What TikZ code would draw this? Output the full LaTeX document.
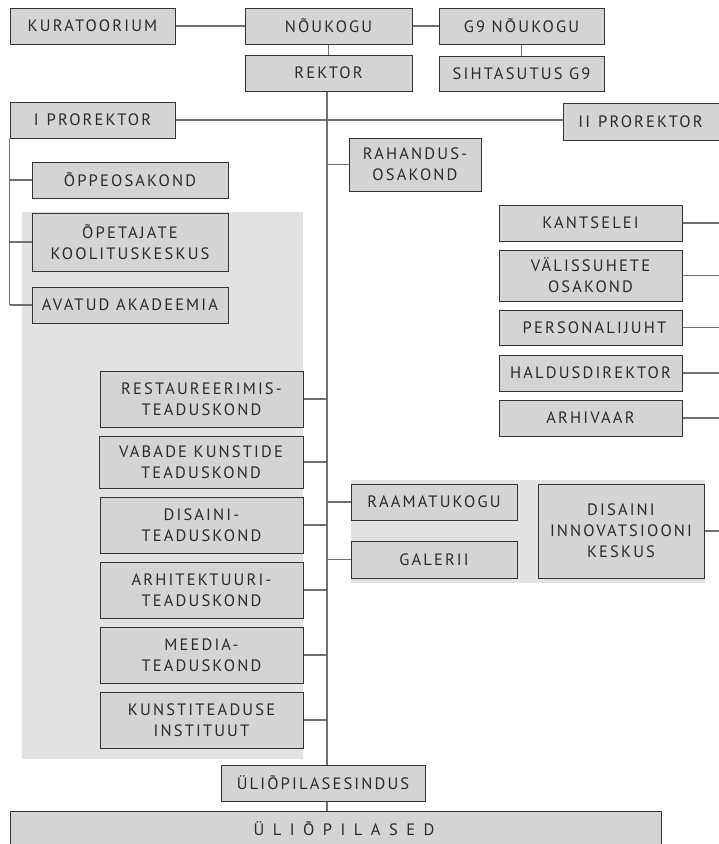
\documentclass[tikz,border=0pt]{standalone}
\usepackage{fontspec}
\newfontfamily\orgfont{PT Sans}[LetterSpace=13]
\definecolor{boxfill}{HTML}{D4D4D6}
\definecolor{bgfill}{HTML}{E1E2E4}
\definecolor{boxline}{HTML}{333333}
\definecolor{connline}{HTML}{707070}
\definecolor{txt}{HTML}{2A2A2A}
\tikzset{
  box/.style={draw=boxline, fill=boxfill, line width=1pt, inner sep=0pt, align=center,
    text=txt, font=\orgfont\fontsize{16.5}{21}\selectfont},
  conn/.style={draw=connline, line width=1.4pt},
  bgarea/.style={fill=bgfill, draw=none}
}
\newcommand{\bx}[6]{\node[box, minimum width={(#4-#2)*1pt}, minimum height={(#5-#3)*1pt}] (#1) at ({(#2+#4)/2},{(#3+#5)/2}) {#6};}
\begin{document}
\begin{tikzpicture}[x=1pt,y=-1pt]
\useasboundingbox (0,0) rectangle (719,844);
% background areas
\fill[bgarea] (22,212) rectangle (303,759);
\fill[bgarea] (351,480) rectangle (705,583);
% reference coordinates
\coordinate (spine) at (327,0);
\coordinate (edge) at (722,0);
% boxes
\bx{kur}{10}{8}{175}{44}{KURATOORIUM}
\bx{nou}{245}{8}{412}{44}{NÕUKOGU}
\bx{gnou}{439}{8}{604}{44}{G9 NÕUKOGU}
\bx{rek}{245}{55}{412}{91}{REKTOR}
\bx{sih}{439}{56}{604}{91}{SIHTASUTUS G9}
\bx{ipro}{10}{102}{175}{138}{I\hspace{8pt}PROREKTOR}
\bx{iipro}{563}{103}{724}{140}{II\hspace{8pt}PROREKTOR\hspace{6pt}}
\bx{rah}{349}{138}{481}{191}{RAHANDUS-\\OSAKOND}
\bx{opp}{32}{162}{228}{198}{ÕPPEOSAKOND}
\bx{opk}{32}{213}{228}{271}{ÕPETAJATE\\KOOLITUSKESKUS}
\bx{ava}{32}{287}{228}{323}{AVATUD AKADEEMIA}
\bx{kan}{499}{205}{682}{241}{KANTSELEI}
\bx{val}{499}{250}{682}{301}{VÄLISSUHETE\\OSAKOND}
\bx{per}{499}{310}{682}{345}{\hspace{8pt}PERSONALIJUHT}
\bx{hal}{499}{355}{682}{391}{HALDUSDIREKTOR}
\bx{arh}{499}{400}{682}{436}{ARHIVAAR}
\bx{res}{100}{371}{303}{427}{RESTAUREERIMIS-\\TEADUSKOND}
\bx{vab}{99}{436}{303}{488}{VABADE KUNSTIDE\\TEADUSKOND}
\bx{dis}{100}{497}{303}{553}{DISAINI-\\TEADUSKOND}
\bx{arc}{100}{562}{303}{618}{ARHITEKTUURI-\\TEADUSKOND}
\bx{mee}{100}{627}{303}{683}{MEEDIA-\\TEADUSKOND}
\bx{kun}{100}{692}{303}{748}{KUNSTITEADUSE\\INSTITUUT}
\bx{raa}{351}{484}{517}{520}{RAAMATUKOGU}
\bx{gal}{351}{541}{517}{578}{GALERII}
\bx{dik}{538}{484}{704}{578}{DISAINI\\INNOVATSIOONI\\KESKUS}
\bx{sind}{221}{765}{425}{801}{ÜLIÕPILASESINDUS}
\node[box, minimum width=651pt, minimum height=45pt, anchor=north west] (uls) at (9.5,811) {};
\node[text=txt, font=\orgfont\fontsize{16.5}{21}\selectfont] (ulst) at (344,829) {Ü\hspace{8.5pt}L\hspace{8.5pt}I\hspace{8.5pt}Õ\hspace{8.5pt}P\hspace{8.5pt}I\hspace{8.5pt}L\hspace{8.5pt}A\hspace{8.5pt}S\hspace{8.5pt}E\hspace{8.5pt}D};
% connectors
\draw[conn] (kur.east) -- (nou.west);
\draw[conn] (nou.east) -- (gnou.west);
\draw[conn] (nou.south) -- (rek.north);
\draw[conn] (gnou.south) -- (sih.north);
\draw[conn] (ipro.east) -- (ipro.east -| iipro.west);
\draw[conn] (rek.south -| spine) -- (sind.north -| spine);
\draw[conn] (sind.south -| spine) -- (uls.north -| spine);
\draw[conn] (ipro.south west) -- (ipro.south west |- ava.west);
\foreach \n in {opp,opk,ava} \draw[conn] (ipro.south west |- \n.west) -- (\n.west);
\foreach \n in {rah,raa,gal} \draw[conn] (\n.west -| spine) -- (\n.west);
\foreach \n in {res,vab,dis,arc,mee,kun} \draw[conn] (\n.east) -- (\n.east -| spine);
\foreach \n in {kan,val,per,hal,arh,dik} \draw[conn] (\n.east) -- (\n.east -| edge);
\end{tikzpicture}
\end{document}
